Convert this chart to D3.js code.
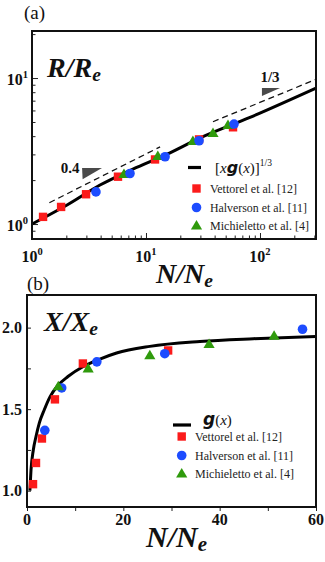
<!DOCTYPE html>
<html><head><meta charset="utf-8">
<script src="https://cdn.jsdelivr.net/npm/d3@7"></script>
<style>body{margin:0;background:#fff}svg{display:block}</style>
</head><body>
<svg id="c" width="325" height="562"></svg>
<script>
// ---------- Panel (a): R/Re vs N/Ne (log-log) ----------
const vettorelA_N = [1.25, 1.80, 2.98, 5.68, 12.0, 29.2, 58];
const vettorelA_R = [1.12, 1.31, 1.60, 2.11, 2.77, 3.80, 4.60];
const halversonA_N = [3.64, 7.24, 14.7, 29.2, 59.2];
const halversonA_R = [1.66, 2.22, 2.89, 3.72, 4.84];
const michA_N = [6.41, 12.7, 25.8, 38.7, 52.4];
const michA_R = [2.20, 2.92, 3.70, 4.20, 4.76];
const curveA_N = [1.0, 2.03, 3.95, 7.68, 15.3, 29.6, 81.7, 310];
const curveA_R = [1.0, 1.35, 1.85, 2.38, 3.01, 3.88, 5.38, 8.54];
const dash13_N = [38.7, 310], dash13_R = [5.02, 9.8];
const dash04_N = [1.42, 13.3], dash04_R = [1.40, 3.38];
const tri13_N = [104, 150, 104], tri13_R = [8.54, 8.54, 7.53];
const tri04_N = [2.75, 4.11, 2.78], tri04_R = [2.42, 2.42, 2.03];
const xTicksA = [1, 10, 100], xTickExpA = ["0", "1", "2"];
const yTicksA = [1, 10], yTickExpA = ["0", "1"];
const xMinorA = [2,3,4,5,6,7,8,9,20,30,40,50,60,70,80,90,200,300];
const yMinorA = [0.9,2,3,4,5,6,7,8,9,20];

// ---------- Panel (b): X/Xe vs N/Ne ----------
const vettorelB_N = [1.25, 1.87, 3.1, 5.8, 11.6, 29.3];
const vettorelB_X = [1.04, 1.17, 1.32, 1.56, 1.78, 1.86];
const halversonB_N = [3.7, 7.2, 14.5, 28.6, 57.2];
const halversonB_X = [1.37, 1.63, 1.79, 1.84, 1.99];
const michB_N = [6.5, 12.7, 25.5, 37.8, 51.3];
const michB_X = [1.64, 1.75, 1.83, 1.90, 1.95];
const curveB_N = [0.6, 0.83, 1.31, 1.87, 2.55, 3.59, 4.77, 6.4, 8.5, 11.6, 15.0, 18.6, 25.5, 35.9, 47, 60];
const curveB_X = [1.0, 1.127, 1.25, 1.332, 1.414, 1.496, 1.575, 1.645, 1.70, 1.76, 1.805, 1.844, 1.885, 1.915, 1.932, 1.946];
const xTicksB = [0, 20, 40, 60], xTickLabB = ["0", "20", "40", "60"];
const xMinorB = [10, 30, 50];
const yTicksB = [1.0, 1.5, 2.0], yTickLabB = ["1.0", "1.5", "2.0"];
const yMinorB = [1.25, 1.75];

const legendNames = ["Vettorel et al. [12]", "Halverson et al. [11]", "Michieletto et al. [4]"];
const RED = "#fb1b1b", BLUE = "#1d4cff", GREEN = "#2f9a0c";
const SERIF = "'Liberation Serif','Times New Roman',serif";

const svg = d3.select("#c");
const zip = (a, b) => a.map((v, i) => [v, b[i]]);

function marker(g, type, x, y, col) {
  if (type === "sq") g.append("rect").attr("x", x - 4.2).attr("y", y - 4.2).attr("width", 8.4).attr("height", 8.4).attr("fill", col);
  else if (type === "ci") g.append("circle").attr("cx", x).attr("cy", y).attr("r", 4.8).attr("fill", col);
  else g.append("path").attr("d", `M${x},${y-5.5}L${x+5.6},${y+4}L${x-5.6},${y+4}Z`).attr("fill", col);
}
function supLabel(g, x, y, base, exp, anchor) {
  const t = g.append("text").attr("x", x).attr("y", y).attr("text-anchor", anchor)
    .attr("font-family", SERIF).attr("font-weight", "bold").attr("font-size", 16).attr("fill", "#111");
  t.append("tspan").text(base);
  t.append("tspan").attr("dy", -7).attr("font-size", 10.5).text(exp);
}
function bigLabel(g, x, y, main, sub, size) {
  const t = g.append("text").attr("x", x).attr("y", y).attr("font-family", SERIF)
    .attr("font-weight", "bold").attr("font-style", "italic").attr("font-size", size).attr("fill", "#111");
  t.append("tspan").text(main);
  t.append("tspan").attr("dy", 4).attr("font-size", size * 0.7).text(sub);
}

// ===== Panel (a) =====
const L1 = 32, R1 = 316, T1 = 31, B1 = 239;
const xA = d3.scaleLog().domain([1, 310]).range([L1, R1]);
const yA = d3.scaleLog().domain([0.79, 21]).range([B1, T1]);
const gA = svg.append("g");

// ticks (inward)
gA.append("g").attr("transform", `translate(0,${B1})`)
  .call(d3.axisBottom(xA).tickValues(xMinorA).tickSize(-3.5).tickFormat(""))
  .call(s => { s.select(".domain").remove(); s.selectAll("line").attr("stroke", "#222"); });
gA.append("g").attr("transform", `translate(0,${B1})`)
  .call(d3.axisBottom(xA).tickValues(xTicksA).tickSize(-6).tickFormat(""))
  .call(s => { s.select(".domain").remove(); s.selectAll("line").attr("stroke", "#222"); });
gA.append("g").attr("transform", `translate(${L1},0)`)
  .call(d3.axisLeft(yA).tickValues(yMinorA).tickSize(-3.5).tickFormat(""))
  .call(s => { s.select(".domain").remove(); s.selectAll("line").attr("stroke", "#222"); });
gA.append("g").attr("transform", `translate(${L1},0)`)
  .call(d3.axisLeft(yA).tickValues(yTicksA).tickSize(-6).tickFormat(""))
  .call(s => { s.select(".domain").remove(); s.selectAll("line").attr("stroke", "#222"); });

xTicksA.forEach((v, i) => supLabel(gA, xA(v), 262, "10", xTickExpA[i], "middle"));
yTicksA.forEach((v, i) => supLabel(gA, 28, yA(v) + 7, "10", yTickExpA[i], "end"));

// dashed guides
const lineA = d3.line().x(d => xA(d[0])).y(d => yA(d[1]));
gA.append("path").attr("d", lineA(zip(dash13_N, dash13_R))).attr("fill", "none").attr("stroke", "#111").attr("stroke-width", 1.3).attr("stroke-dasharray", "6,4");
gA.append("path").attr("d", lineA(zip(dash04_N, dash04_R))).attr("fill", "none").attr("stroke", "#111").attr("stroke-width", 1.3).attr("stroke-dasharray", "6,4");
gA.append("path").attr("d", lineA(zip(tri13_N, tri13_R)) + "Z").attr("fill", "#4a4a4a");
gA.append("path").attr("d", lineA(zip(tri04_N, tri04_R)) + "Z").attr("fill", "#4a4a4a");
gA.append("text").attr("x", 270).attr("y", 82).attr("text-anchor", "middle").attr("font-family", SERIF).attr("font-weight", "bold").attr("font-size", 15).attr("fill", "#111").text("1/3");
gA.append("text").attr("x", 70).attr("y", 173).attr("text-anchor", "middle").attr("font-family", SERIF).attr("font-weight", "bold").attr("font-size", 15).attr("fill", "#111").text("0.4");

// curve
gA.append("path").attr("d", d3.line().x(d => xA(d[0])).y(d => yA(d[1])).curve(d3.curveMonotoneX)(zip(curveA_N, curveA_R)))
  .attr("fill", "none").attr("stroke", "#000").attr("stroke-width", 3);

// data (order: red, green, blue)
zip(vettorelA_N, vettorelA_R).forEach(d => marker(gA, "sq", xA(d[0]), yA(d[1]), RED));
zip(michA_N, michA_R).forEach(d => marker(gA, "tr", xA(d[0]), yA(d[1]), GREEN));
zip(halversonA_N, halversonA_R).forEach(d => marker(gA, "ci", xA(d[0]), yA(d[1]), BLUE));

// frame
gA.append("rect").attr("x", L1).attr("y", T1).attr("width", R1 - L1).attr("height", B1 - T1).attr("fill", "none").attr("stroke", "#111").attr("stroke-width", 2);

// legend (a)
gA.append("line").attr("x1", 188).attr("x2", 201).attr("y1", 167.5).attr("y2", 167.5).attr("stroke", "#000").attr("stroke-width", 3.2);
{
  const t = gA.append("text").attr("x", 215).attr("y", 173).attr("font-family", SERIF).attr("font-size", 15).attr("fill", "#111");
  t.append("tspan").text("[");
  t.append("tspan").attr("font-style", "italic").text("x");
  t.append("tspan").attr("font-family", "'DejaVu Sans',sans-serif").attr("font-weight", "bold").attr("font-style", "italic").attr("font-size", 16).text("g");
  t.append("tspan").text("(");
  t.append("tspan").attr("font-style", "italic").text("x");
  t.append("tspan").text(")]");
  t.append("tspan").attr("dy", -7).attr("font-size", 9.5).text("1/3");
}
const legTypes = ["sq", "ci", "tr"], legCols = [RED, BLUE, GREEN];
const legAY = [188.5, 207.5, 225.5], legAW = [87, 97, 99];
legendNames.forEach((n, i) => {
  marker(gA, legTypes[i], 196.5, legAY[i], legCols[i]);
  gA.append("text").attr("x", 210).attr("y", legAY[i] + 4.5).attr("font-family", SERIF).attr("font-size", 12.5)
    .attr("fill", "#222").attr("textLength", legAW[i]).attr("lengthAdjust", "spacingAndGlyphs").text(n);
});

bigLabel(gA, 47, 77, "R/R", "e", 28);
bigLabel(gA, 156, 283, "N/N", "e", 28);
gA.append("text").attr("x", 24).attr("y", 19).attr("font-family", SERIF).attr("font-size", 19).attr("fill", "#111").text("(a)");

// ===== Panel (b) =====
const L2 = 27, R2 = 316, T2 = 295, B2 = 507;
const xB = d3.scaleLinear().domain([0, 60]).range([L2, R2]);
const yB = d3.scaleLinear().domain([0.9, 2.2]).range([B2, T2]);
const gB = svg.append("g");

gB.append("g").attr("transform", `translate(0,${B2})`)
  .call(d3.axisBottom(xB).tickValues(xTicksB.concat(xMinorB)).tickSize(4).tickFormat(""))
  .call(s => { s.select(".domain").remove(); s.selectAll("line").attr("stroke", "#222"); });
gB.append("g").attr("transform", `translate(${L2},0)`)
  .call(d3.axisLeft(yB).tickValues(yTicksB.concat(yMinorB)).tickSize(-4).tickFormat(""))
  .call(s => { s.select(".domain").remove(); s.selectAll("line").attr("stroke", "#222"); });
xTicksB.forEach((v, i) => gB.append("text").attr("x", xB(v)).attr("y", 525).attr("text-anchor", "middle")
  .attr("font-family", SERIF).attr("font-weight", "bold").attr("font-size", 16).attr("fill", "#111").text(xTickLabB[i]));
yTicksB.forEach((v, i) => gB.append("text").attr("x", 22).attr("y", yB(v) + 5.5).attr("text-anchor", "end")
  .attr("font-family", SERIF).attr("font-weight", "bold").attr("font-size", 16).attr("fill", "#111").text(yTickLabB[i]));

gB.append("path").attr("d", d3.line().x(d => xB(d[0])).y(d => yB(d[1])).curve(d3.curveMonotoneX)(zip(curveB_N, curveB_X)))
  .attr("fill", "none").attr("stroke", "#000").attr("stroke-width", 3);

// data (order: red, blue, green)
zip(vettorelB_N, vettorelB_X).forEach(d => marker(gB, "sq", xB(d[0]), yB(d[1]), RED));
zip(halversonB_N, halversonB_X).forEach(d => marker(gB, "ci", xB(d[0]), yB(d[1]), BLUE));
zip(michB_N, michB_X).forEach(d => marker(gB, "tr", xB(d[0]), yB(d[1]), GREEN));

gB.append("rect").attr("x", L2).attr("y", T2).attr("width", R2 - L2).attr("height", B2 - T2).attr("fill", "none").attr("stroke", "#111").attr("stroke-width", 2);

// legend (b)
gB.append("line").attr("x1", 173).attr("x2", 191).attr("y1", 425).attr("y2", 425).attr("stroke", "#000").attr("stroke-width", 3.2);
{
  const t = gB.append("text").attr("x", 203).attr("y", 425).attr("font-family", SERIF).attr("font-size", 15).attr("fill", "#111");
  t.append("tspan").attr("font-family", "'DejaVu Sans',sans-serif").attr("font-weight", "bold").attr("font-style", "italic").attr("font-size", 17).text("g");
  t.append("tspan").text("(");
  t.append("tspan").attr("font-style", "italic").text("x");
  t.append("tspan").text(")");
}
const legBY = [436.5, 455.5, 473.5], legBW = [87, 98, 99];
legendNames.forEach((n, i) => {
  marker(gB, legTypes[i], 181.7, legBY[i], legCols[i]);
  gB.append("text").attr("x", 195).attr("y", legBY[i] + 4.5).attr("font-family", SERIF).attr("font-size", 12.5)
    .attr("fill", "#222").attr("textLength", legBW[i]).attr("lengthAdjust", "spacingAndGlyphs").text(n);
});

bigLabel(gB, 44, 331, "X/X", "e", 28);
bigLabel(gB, 146, 547, "N/N", "e", 30);
gB.append("text").attr("x", 27).attr("y", 290).attr("font-family", SERIF).attr("font-size", 19).attr("fill", "#111").text("(b)");
</script>
</body></html>
